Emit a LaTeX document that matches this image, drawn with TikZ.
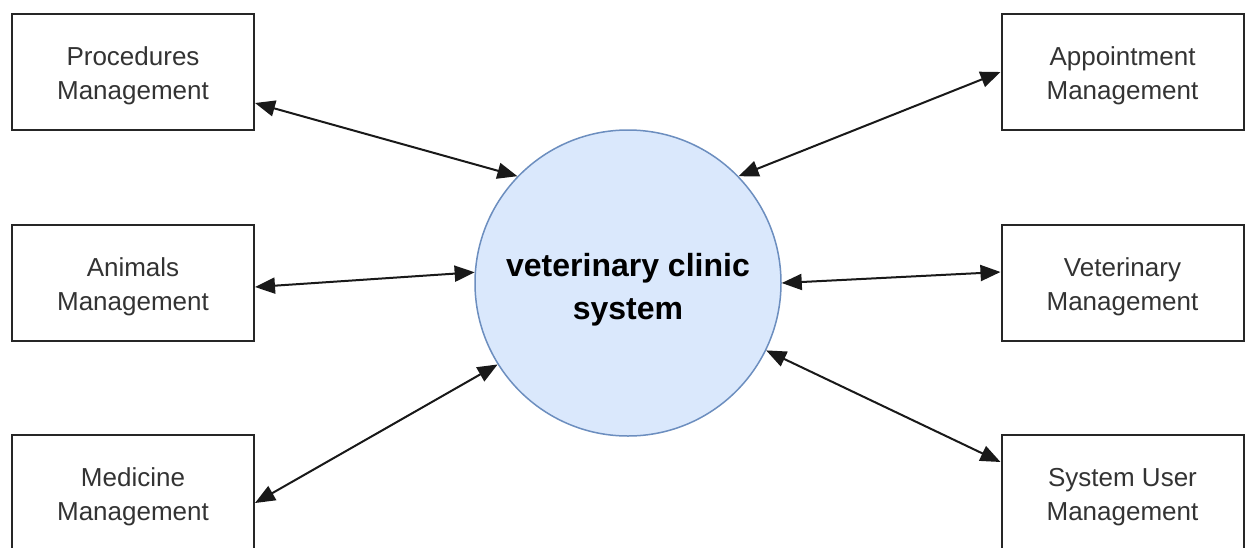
\documentclass[tikz,border=0pt]{standalone}
\usepackage{fontspec}
\setmainfont{Liberation Sans}
\usetikzlibrary{arrows.meta}
\definecolor{boxtext}{HTML}{333333}
\definecolor{circfill}{HTML}{DAE8FC}
\definecolor{circline}{HTML}{6C8EBF}
\newcommand{\boxstrut}{\rule{0pt}{27pt}}
\newcommand{\hubstrut}{\rule{0pt}{37pt}}
\tikzset{
  mgmt/.style={draw=black!85, line width=2pt, minimum width=242pt, minimum height=116pt,
    inner sep=0pt, align=center, text=boxtext, font=\fontsize{26}{34}\selectfont},
  hub/.style={circle, draw=circline, fill=circfill, line width=1.5pt, minimum size=306pt,
    inner sep=0pt, align=center, font=\fontsize{32}{43}\selectfont\bfseries},
  link/.style={line width=2pt, draw=black!90, {Triangle[length=20pt,width=16pt]}-{Triangle[length=20pt,width=16pt]}}
}
\begin{document}
\begin{tikzpicture}[x=1pt,y=-1pt]
\useasboundingbox (0,0) rectangle (1251,547);
\clip (0,0) rectangle (1251,547);
\fill[white] (0,0) rectangle (1251,547);
\node[hub] (c) at (628,283) {\hubstrut veterinary clinic\\system};
\node[mgmt] (proc) at (133,72) {\boxstrut Procedures\\Management};
\node[mgmt] (anim) at (133,283) {\boxstrut Animals\\Management};
\node[mgmt] (med) at (133,493) {\boxstrut Medicine\\Management};
\node[mgmt] (appt) at (1122.5,72) {\boxstrut Appointment\\Management};
\node[mgmt] (vet) at (1122.5,283) {\boxstrut Veterinary\\Management};
\node[mgmt] (user) at (1122.5,493) {\boxstrut System User\\Management};
\draw[link] ([yshift=-31pt]proc.east) -- (c.136);
\draw[link] ([yshift=-4pt]anim.east) -- (c.176);
\draw[link] ([yshift=-10pt]med.east) -- (c.212.6);
\draw[link] (c.44.5) -- (appt.west);
\draw[link] (c.0) -- ([yshift=11pt]vet.west);
\draw[link] (c.-26) -- ([yshift=31pt]user.west);
\end{tikzpicture}
\end{document}
